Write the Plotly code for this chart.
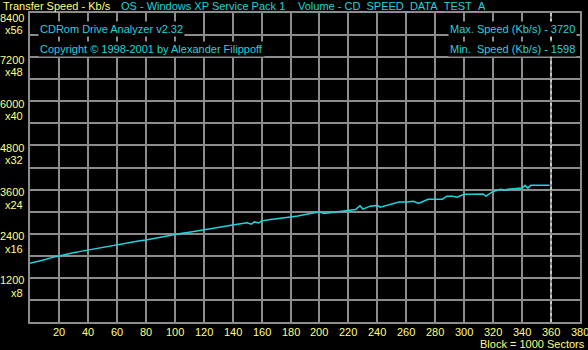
import plotly.graph_objects as go

# Data
blocks = [0, 5, 10, 15, 20, 25, 30, 35, 40, 45, 50, 55, 60, 65, 70, 75, 80, 85, 90, 95,
          100, 105, 110, 115, 120, 125, 130, 135, 140, 145, 150, 153, 155, 158, 160, 165,
          170, 175, 180, 185, 190, 195, 200, 203, 205, 210, 215, 220, 225, 228, 230, 235,
          240, 242, 245, 250, 255, 260, 265, 268, 270, 275, 280, 285, 288, 292, 295, 300,
          305, 310, 313, 315, 318, 320, 325, 328, 330, 335, 340, 342, 344, 346, 350, 355, 359]
speed = [1598, 1640, 1690, 1750, 1800, 1840, 1880, 1920, 1957, 1995, 2035, 2070, 2101, 2140,
         2170, 2200, 2230, 2270, 2310, 2350, 2385, 2410, 2440, 2470, 2495, 2530, 2560, 2600,
         2636, 2660, 2700, 2660, 2720, 2690, 2750, 2780, 2810, 2830, 2855, 2880, 2920, 2950,
         2995, 2950, 2960, 3000, 3010, 3040, 3060, 3160, 3070, 3150, 3170, 3120, 3150, 3200,
         3260, 3260, 3280, 3230, 3250, 3335, 3335, 3340, 3420, 3420, 3390, 3470, 3470, 3470,
         3480, 3420, 3500, 3550, 3610, 3580, 3610, 3630, 3640, 3715, 3640, 3715, 3718, 3720, 3720]

x_ticks = list(range(20, 381, 20))
y_ticks = [1200, 2400, 3600, 4800, 6000, 7200, 8400]
y_mult = ["x8", "x16", "x24", "x32", "x40", "x48", "x56"]

max_speed = 3720
min_speed = 1598
end_block = 360
x_max = 380
y_max = 8400

CYAN = "#22D3DC"
YELLOW = "#FFFF80"
GRID = "#8C8C8C"
FONT = "Liberation Sans"
FS = 11

fig = go.Figure()

fig.add_trace(go.Scatter(x=blocks, y=speed, mode="lines",
                         line=dict(color=CYAN, width=1.5), hoverinfo="skip"))

fig.add_shape(type="line", xref="x", yref="paper", x0=end_block, x1=end_block, y0=0, y1=1,
              line=dict(color="white", width=1, dash="3px,3px"), layer="above")

ann = []
# y tick labels (value + speed multiplier)
for v, m in zip(y_ticks, y_mult):
    extra = -2 if v == y_max else 0
    ann.append(dict(xref="paper", yref="y", x=0, y=v, text=str(v), showarrow=False,
                    xanchor="right", yanchor="middle", xshift=-4, yshift=-2.5 + extra,
                    font=dict(color=YELLOW, size=FS, family=FONT)))
    ann.append(dict(xref="paper", yref="y", x=0, y=v, text=m, showarrow=False,
                    xanchor="right", yanchor="middle", xshift=-5, yshift=-15 + extra,
                    font=dict(color=YELLOW, size=FS, family=FONT)))

# x tick labels
for v in x_ticks:
    ann.append(dict(xref="x", yref="paper", x=v, y=0, text=str(v), showarrow=False,
                    xanchor="center", yanchor="middle", yshift=-10,
                    font=dict(color=YELLOW, size=FS, family=FONT)))

def px2paper(px):
    return (px - 30) / 550.0

def py2paper(py):
    return (322 - py) / 309.0

top_texts = [("Transfer Speed - Kb/s", 1, YELLOW),
             ("OS - Windows XP Service Pack 1", 119, CYAN),
             ("Volume - CD_SPEED_DATA_TEST_A", 296, CYAN)]
for t, px, c in top_texts:
    ann.append(dict(xref="paper", yref="paper", x=px2paper(px), y=py2paper(6), text=t,
                    showarrow=False, xanchor="left", yanchor="middle",
                    font=dict(color=c, size=FS, family=FONT)))

box_texts = [("CDRom Drive Analyzer v2.32", 38, 29.5, "left"),
             ("Copyright \u00a9 1998-2001 by Alexander Filippoff", 38, 49.5, "left"),
             ("Max. Speed (Kb/s) - %d" % max_speed, 577, 29.5, "right"),
             ("Min.\u00a0 Speed (Kb/s) - %d" % min_speed, 577, 49.5, "right")]
for t, px, py, anc in box_texts:
    ann.append(dict(xref="paper", yref="paper", x=px2paper(px), y=py2paper(py), text=t,
                    showarrow=False, xanchor=anc, yanchor="middle", bgcolor="black",
                    borderpad=1, font=dict(color=CYAN, size=FS, family=FONT)))

ann.append(dict(xref="paper", yref="paper", x=1, y=0, text="Block = 1000 Sectors",
                showarrow=False, xanchor="right", yanchor="middle", xshift=7, yshift=-21.5,
                font=dict(color=YELLOW, size=FS, family=FONT)))

fig.update_layout(
    width=588, height=350,
    margin=dict(l=30, r=8, t=13, b=28, autoexpand=False),
    paper_bgcolor="black", plot_bgcolor="black",
    showlegend=False,
    annotations=ann,
    xaxis=dict(range=[0, x_max], tickvals=x_ticks, showticklabels=False, automargin=False,
               showgrid=True, gridcolor=GRID, gridwidth=1.5, zeroline=False,
               showline=True, linecolor=GRID, linewidth=1.5, mirror=True, ticks="",
               fixedrange=True),
    yaxis=dict(range=[0, y_max], tick0=0, dtick=600, showticklabels=False, automargin=False,
               showgrid=True, gridcolor=GRID, gridwidth=1.5, zeroline=False,
               showline=True, linecolor=GRID, linewidth=1.5, mirror=True, ticks="",
               fixedrange=True),
)

fig.write_html("out.html", config={"displayModeBar": False},
               post_script="document.body.style.margin='0px';")
